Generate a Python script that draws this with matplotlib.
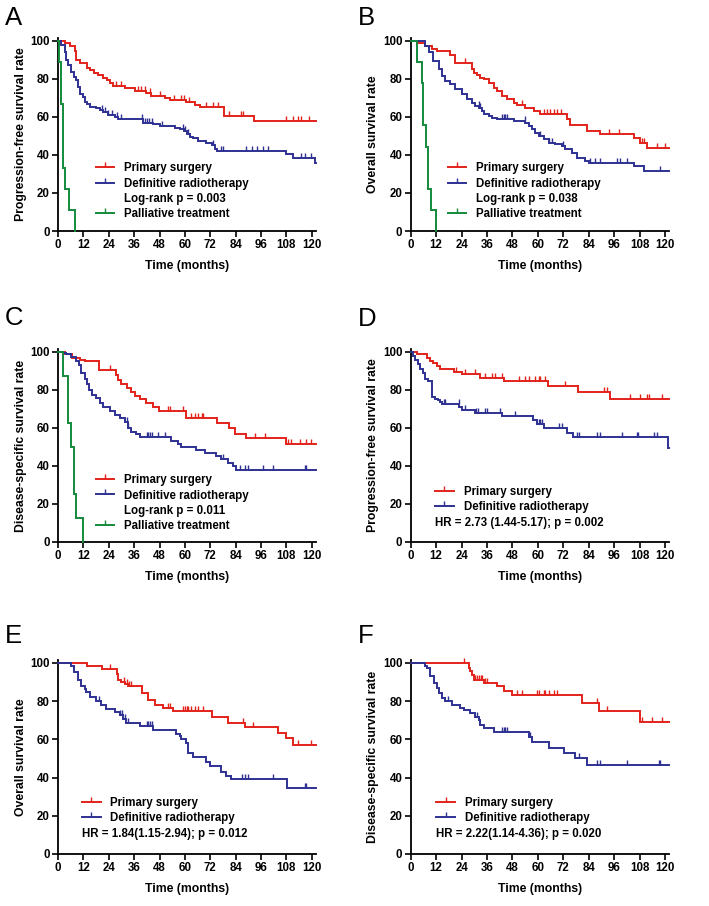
import numpy as np
import matplotlib
matplotlib.use("Agg")
import matplotlib.pyplot as plt
from matplotlib.lines import Line2D
from matplotlib.markers import TICKUP

plt.rcParams['font.family'] = ['Liberation Sans', 'DejaVu Sans']
plt.rcParams['font.weight'] = 'bold'

# ---------------- data (months, survival %) ----------------
xticks = list(range(0, 121, 12))
yticks = list(range(0, 101, 20))
labels_main = ["Primary surgery", "Definitive radiotherapy"]
label_pall = "Palliative treatment"

# Panel A: progression-free survival
a_ps_t = [3.3, 5.7, 8.0, 8.3, 10.4, 13.5, 15.1, 17.2, 19.0, 21.4, 23.0, 24.6, 26.1, 31.5, 36.2, 41.7, 44.0, 50.4, 52.8, 60.6, 64.6, 67.0, 78.7, 92.9]
a_ps_s = [98.8, 97.4, 94.7, 90.0, 88.6, 86.0, 84.6, 83.3, 81.9, 80.7, 79.3, 78.1, 76.3, 75.0, 73.8, 72.4, 71.2, 69.8, 68.9, 67.7, 66.3, 65.4, 60.5, 57.8]
a_ps_c = [27.5, 30.0, 37.8, 39.4, 41.0, 43.3, 48.0, 55.0, 58.3, 59.8, 62.0, 70.0, 73.2, 75.6, 81.0, 86.6, 87.4, 107.9, 111.0, 113.4, 115.0, 118.9]
a_rt_t = [1.6, 3.1, 3.9, 4.7, 6.3, 7.4, 8.7, 9.4, 10.2, 11.8, 12.6, 13.7, 15.0, 18.1, 19.7, 21.3, 23.6, 26.8, 28.3, 40.2, 44.9, 48.0, 55.1, 57.6, 59.5, 60.8, 62.2, 63.8, 66.3, 70.1, 72.6, 74.2, 75.0, 107.9, 111.3, 121.3]
a_rt_s = [97.9, 94.4, 90.0, 87.3, 83.8, 80.8, 79.4, 75.6, 72.1, 70.7, 68.0, 66.8, 65.4, 64.5, 63.6, 62.4, 61.0, 60.1, 58.9, 57.0, 56.1, 55.3, 54.4, 53.5, 52.5, 51.3, 49.6, 48.7, 47.4, 46.5, 45.3, 43.4, 42.1, 40.4, 38.6, 36.0]
a_rt_c = [20.6, 22.2, 23.8, 25.4, 27.7, 30.0, 39.5, 41.1, 41.9, 43.0, 44.3, 49.0, 59.2, 60.0, 61.6, 73.4, 77.3, 78.1, 89.1, 91.5, 93.9, 97.0, 99.4, 115.1, 116.7, 119.8]
a_pt_t = [0.5, 1.6, 2.4, 3.5, 5.0, 7.9]
a_pt_s = [88.9, 66.7, 33.3, 22.2, 11.1, 0.0]

# Panel B: overall survival
b_ps_t = [3.0, 6.9, 10.0, 12.4, 18.7, 21.0, 28.9, 29.7, 31.3, 32.9, 34.4, 36.8, 39.2, 40.7, 43.1, 45.4, 48.6, 50.2, 54.1, 58.0, 61.2, 73.6, 75.3, 83.2, 89.5, 105.2, 108.3, 111.5]
b_ps_s = [99.1, 97.4, 95.6, 94.7, 92.6, 88.6, 85.1, 83.3, 81.9, 80.7, 79.8, 78.1, 75.4, 73.7, 71.1, 69.3, 67.5, 66.1, 64.9, 63.2, 61.4, 58.8, 55.6, 52.6, 50.9, 49.1, 46.5, 43.9]
b_ps_c = [25.8, 52.5, 62.7, 64.3, 65.9, 67.5, 69.0, 71.0, 93.4, 98.1, 109.0, 110.0, 116.2, 120.0]
b_rt_t = [6.9, 8.5, 10.5, 13.2, 14.8, 16.4, 18.7, 21.1, 24.2, 26.6, 28.9, 30.5, 32.1, 33.6, 34.4, 36.8, 38.4, 40.7, 48.6, 54.1, 55.7, 57.2, 58.8, 60.4, 62.7, 65.1, 68.2, 71.4, 73.0, 76.1, 78.5, 82.4, 84.0, 105.2, 109.9]
b_rt_s = [97.4, 94.0, 89.5, 85.1, 81.6, 78.9, 77.2, 74.6, 71.9, 69.3, 67.5, 65.8, 64.9, 63.2, 61.4, 60.5, 59.6, 58.8, 57.9, 57.0, 55.3, 53.5, 51.8, 50.0, 48.2, 46.5, 45.6, 44.7, 43.0, 41.2, 38.6, 36.8, 36.0, 34.2, 31.6]
b_rt_c = [32.0, 32.9, 43.0, 43.8, 44.7, 45.4, 54.0, 61.2, 65.5, 66.7, 71.9, 84.7, 87.1, 89.5, 97.3, 98.9, 102.0, 117.8]
b_pt_t = [2.8, 5.2, 6.0, 7.1, 8.3, 9.6, 11.9]
b_pt_s = [88.9, 77.8, 55.6, 44.4, 22.2, 11.1, 0.0]

# Panel C: disease-specific survival
c_ps_t = [3.5, 6.5, 10.2, 12.6, 19.4, 27.6, 28.5, 30.0, 32.4, 34.6, 36.2, 38.6, 41.7, 44.9, 47.7, 60.6, 75.0, 81.0, 83.5, 88.7, 107.6]
c_ps_s = [99.0, 97.0, 96.0, 95.0, 90.5, 88.0, 85.0, 83.0, 81.0, 79.0, 77.0, 75.0, 73.0, 71.0, 69.0, 65.5, 62.5, 60.0, 57.0, 54.5, 51.5]
c_ps_c = [24.6, 52.1, 52.9, 59.2, 63.1, 64.7, 66.3, 67.9, 68.7, 93.0, 97.8, 108.8, 110.4, 114.3, 117.5, 119.8]
c_rt_t = [2.4, 3.9, 6.3, 8.7, 9.9, 11.0, 12.6, 13.7, 14.6, 16.2, 18.1, 19.7, 21.3, 24.4, 26.8, 29.1, 31.5, 33.0, 34.6, 36.9, 38.6, 53.5, 56.7, 58.3, 65.4, 69.3, 74.8, 77.2, 80.3, 82.7, 84.3]
c_rt_s = [99.5, 99.0, 97.5, 95.5, 93.0, 89.0, 86.0, 83.0, 80.0, 77.5, 76.0, 73.0, 71.0, 69.0, 67.0, 65.0, 63.0, 60.0, 58.0, 57.0, 55.5, 53.0, 51.5, 50.0, 48.5, 47.0, 45.0, 43.5, 41.5, 40.0, 38.0]
c_rt_c = [32.4, 33.2, 41.9, 42.7, 43.5, 44.3, 47.4, 50.6, 78.1, 86.0, 88.3, 89.9, 97.0, 101.7, 116.7, 117.5]
c_pt_t = [2.4, 4.8, 6.3, 7.4, 8.7, 11.6]
c_pt_s = [87.5, 62.5, 50.0, 25.0, 12.5, 0.0]

# Panel D: progression-free survival (matched)
d_ps_t = [2.8, 7.5, 9.1, 10.7, 12.2, 13.8, 20.6, 24.0, 32.5, 44.0, 65.0, 79.0, 94.0]
d_ps_s = [99.0, 97.0, 95.5, 94.0, 92.5, 91.0, 89.7, 88.5, 86.5, 84.8, 82.0, 78.8, 75.0]
d_ps_c = [21.5, 25.8, 30.5, 35.2, 38.4, 39.9, 43.2, 50.9, 54.1, 55.7, 58.8, 60.4, 61.2, 63.5, 73.0, 91.0, 92.6, 103.6, 108.3, 111.5, 112.3, 118.6]
d_rt_t = [1.3, 2.1, 3.6, 4.4, 6.0, 6.8, 8.3, 9.9, 11.5, 12.7, 13.8, 14.9, 22.8, 24.0, 30.3, 42.9, 57.9, 59.4, 63.0, 73.6, 76.7, 121.5]
d_rt_s = [98.0, 96.0, 93.5, 91.0, 89.0, 86.0, 84.5, 76.5, 75.5, 74.5, 73.5, 72.5, 71.0, 69.5, 68.0, 66.5, 64.0, 62.0, 60.2, 57.5, 55.0, 49.3]
d_rt_c = [15.5, 16.4, 22.6, 25.8, 31.0, 31.8, 35.2, 36.0, 42.3, 49.4, 60.4, 61.2, 62.0, 69.8, 71.4, 78.5, 79.2, 87.9, 89.5, 99.7, 106.8, 107.5, 114.6, 116.2]

# Panel E: overall survival (matched)
e_ps_t = [13.5, 20.6, 27.7, 28.5, 30.0, 31.7, 33.2, 39.5, 42.7, 45.8, 49.8, 54.5, 72.6, 80.5, 88.3, 104.1, 108.0, 111.2]
e_ps_s = [98.4, 96.8, 94.0, 91.2, 90.0, 88.9, 87.7, 84.0, 80.7, 78.2, 76.2, 74.6, 71.8, 68.8, 66.2, 63.2, 60.5, 57.2]
e_ps_c = [24.6, 31.2, 32.4, 33.8, 34.5, 52.1, 52.9, 59.2, 60.0, 60.8, 61.6, 63.1, 64.7, 66.3, 68.7, 87.6, 92.3, 113.5, 119.8]
e_rt_t = [6.3, 7.4, 9.4, 11.0, 12.6, 13.4, 15.0, 18.1, 20.5, 22.8, 26.8, 29.1, 30.7, 32.3, 38.6, 44.9, 55.9, 57.5, 58.3, 60.6, 61.4, 63.8, 70.1, 71.7, 77.2, 79.5, 81.9, 108.2]
e_rt_s = [98.5, 95.0, 91.0, 88.0, 86.5, 85.0, 82.0, 80.0, 78.0, 76.0, 74.5, 72.5, 70.5, 68.5, 67.0, 65.0, 63.0, 61.5, 60.0, 58.0, 53.0, 50.5, 48.0, 46.0, 43.0, 41.0, 39.0, 34.5]
e_rt_c = [19.3, 29.5, 30.2, 31.7, 33.0, 41.9, 42.7, 43.5, 44.3, 86.8, 88.3, 89.9, 101.7, 116.7, 117.5]

# Panel F: disease-specific survival (matched)
f_ps_t = [27.4, 28.1, 28.8, 29.7, 34.4, 40.7, 43.9, 47.8, 80.8, 88.7, 108.3]
f_ps_s = [97.4, 95.6, 93.9, 91.2, 89.5, 87.7, 85.1, 83.3, 78.9, 74.6, 69.3]
f_ps_c = [25.0, 30.5, 31.3, 32.1, 33.0, 33.6, 35.2, 36.0, 50.2, 52.5, 59.6, 60.4, 62.7, 63.5, 65.1, 67.5, 69.0, 87.9, 92.6, 109.1, 113.8, 118.6]
f_rt_t = [6.9, 7.7, 9.3, 10.8, 12.4, 13.2, 14.8, 16.4, 19.5, 23.4, 25.0, 28.1, 30.5, 32.1, 32.9, 34.4, 39.1, 55.7, 57.2, 65.1, 72.2, 77.7, 83.2]
f_rt_s = [98.5, 97.4, 93.0, 89.5, 86.8, 84.2, 81.6, 79.8, 78.1, 76.3, 75.4, 73.7, 71.9, 70.2, 67.5, 65.8, 64.0, 61.4, 58.8, 55.3, 52.6, 50.0, 46.8]
f_rt_c = [17.8, 31.3, 43.1, 43.9, 44.7, 45.4, 56.4, 79.2, 87.9, 89.5, 102.0, 117.0, 117.8]

ylabels = ["Progression-free survival rate", "Overall survival rate", "Disease-specific survival rate",
           "Progression-free survival rate", "Overall survival rate", "Disease-specific survival rate"]
pvals = ["Log-rank p = 0.003", "Log-rank p = 0.038", "Log-rank p = 0.011"]
hrs = ["HR = 2.73 (1.44-5.17); p = 0.002", "HR = 1.84(1.15-2.94); p = 0.012", "HR = 2.22(1.14-4.36); p = 0.020"]
letters = ["A", "B", "C", "D", "E", "F"]

RED = '#e2231a'
BLUE = '#2e3192'
GREEN = '#158a3c'
XMAX = 122
LINE_END = 121.8
FS = 8.3
LFS = 8.8

fig = plt.figure(figsize=(7.09, 9.06), dpi=100)

W = 709.0
H = 906.0
col_x = [58.0, 410.7]
col_w = [258.0, 258.5]
row_y0 = [231.0, 542.0, 854.0]
row_h = [192.9, 192.9, 194.0]

def km(ax, t, s, cens, color, extend=True):
    tt = np.concatenate([[0.0], np.asarray(t, float)])
    ss = np.concatenate([[100.0], np.asarray(s, float)])
    if extend:
        tt = np.append(tt, LINE_END)
        ss = np.append(ss, ss[-1])
    ax.step(tt, ss, where='post', color=color, lw=1.4, clip_on=False,
            solid_joinstyle='miter', zorder=3)
    if cens is not None and len(cens):
        c = np.asarray(cens, float)
        idx = np.searchsorted(tt, c, side='right') - 1
        ax.plot(c, ss[idx], ls='none', marker=TICKUP, ms=3.5, mew=1.0,
                color=color, clip_on=False, zorder=3)

def style(ax, ylabel):
    ax.set_xlim(0, XMAX)
    ax.set_ylim(0, 101.5)
    ax.set_xticks(xticks)
    ax.set_yticks(yticks)
    for sp in ['top', 'right']:
        ax.spines[sp].set_visible(False)
    for sp in ['left', 'bottom']:
        ax.spines[sp].set_linewidth(1.3)
    ax.tick_params(direction='out', length=4, width=1.2, labelsize=FS, pad=2)
    ax.set_ylabel(ylabel, fontsize=LFS, fontweight='bold')
    ax.yaxis.set_label_coords(-0.122, 0.5)
    ax.set_xlabel("Time (months)", fontsize=LFS, fontweight='bold')
    ax.xaxis.set_label_coords(0.5, -0.148)

axes = []
for r in range(3):
    for c in range(2):
        left = col_x[c] / W
        bottom = (H - row_y0[r]) / H
        ax = fig.add_axes([left, bottom, col_w[c] / W, row_h[r] / H])
        axes.append(ax)

data = [
    (a_ps_t, a_ps_s, a_ps_c, a_rt_t, a_rt_s, a_rt_c, a_pt_t, a_pt_s),
    (b_ps_t, b_ps_s, b_ps_c, b_rt_t, b_rt_s, b_rt_c, b_pt_t, b_pt_s),
    (c_ps_t, c_ps_s, c_ps_c, c_rt_t, c_rt_s, c_rt_c, c_pt_t, c_pt_s),
    (d_ps_t, d_ps_s, d_ps_c, d_rt_t, d_rt_s, d_rt_c, None, None),
    (e_ps_t, e_ps_s, e_ps_c, e_rt_t, e_rt_s, e_rt_c, None, None),
    (f_ps_t, f_ps_s, f_ps_c, f_rt_t, f_rt_s, f_rt_c, None, None),
]

# legend anchors (axes fraction) -- layout only
leg_anchor = [(0.147, 0.356), (0.144, 0.356), (0.147, 0.351), (0.095, 0.290), (0.094, 0.294), (0.099, 0.294)]
hr_pos = [None, None, None, (0.094, 0.097), (0.093, 0.105), (0.098, 0.105)]

def handle(color):
    return Line2D([], [], color=color, lw=1.4, marker=TICKUP, ms=3.5, mew=1.0)

for i, ax in enumerate(axes):
    ps_t, ps_s, ps_c, rt_t, rt_s, rt_c, pt_t, pt_s = data[i]
    km(ax, ps_t, ps_s, ps_c, RED)
    km(ax, rt_t, rt_s, rt_c, BLUE)
    if pt_t is not None:
        km(ax, pt_t, pt_s, None, GREEN, extend=False)
    style(ax, ylabels[i])
    if i < 3:
        hs = [handle(RED), handle(BLUE), Line2D([], [], color='none'), handle(GREEN)]
        ls = [labels_main[0], labels_main[1], pvals[i], label_pall]
    else:
        hs = [handle(RED), handle(BLUE)]
        ls = labels_main
    ax.legend(hs, ls, loc='upper left', bbox_to_anchor=leg_anchor[i], frameon=False,
              borderpad=0, borderaxespad=0, handlelength=1.6, handletextpad=0.85,
              labelspacing=0.28, numpoints=1, prop={'size': FS, 'weight': 'bold'})
    if hr_pos[i] is not None:
        ax.text(hr_pos[i][0], hr_pos[i][1], hrs[i - 3], transform=ax.transAxes,
                fontsize=FS, fontweight='bold', va='center', ha='left')

letter_pos = [(5, 25), (358, 25), (5, 325), (358, 326), (5, 643), (358, 643)]
for L, (px, py) in zip(letters, letter_pos):
    fig.text(px / W, 1 - py / H, L, fontsize=18.5, fontweight='normal', va='baseline', ha='left')

fig.savefig("out.png", dpi=100)
